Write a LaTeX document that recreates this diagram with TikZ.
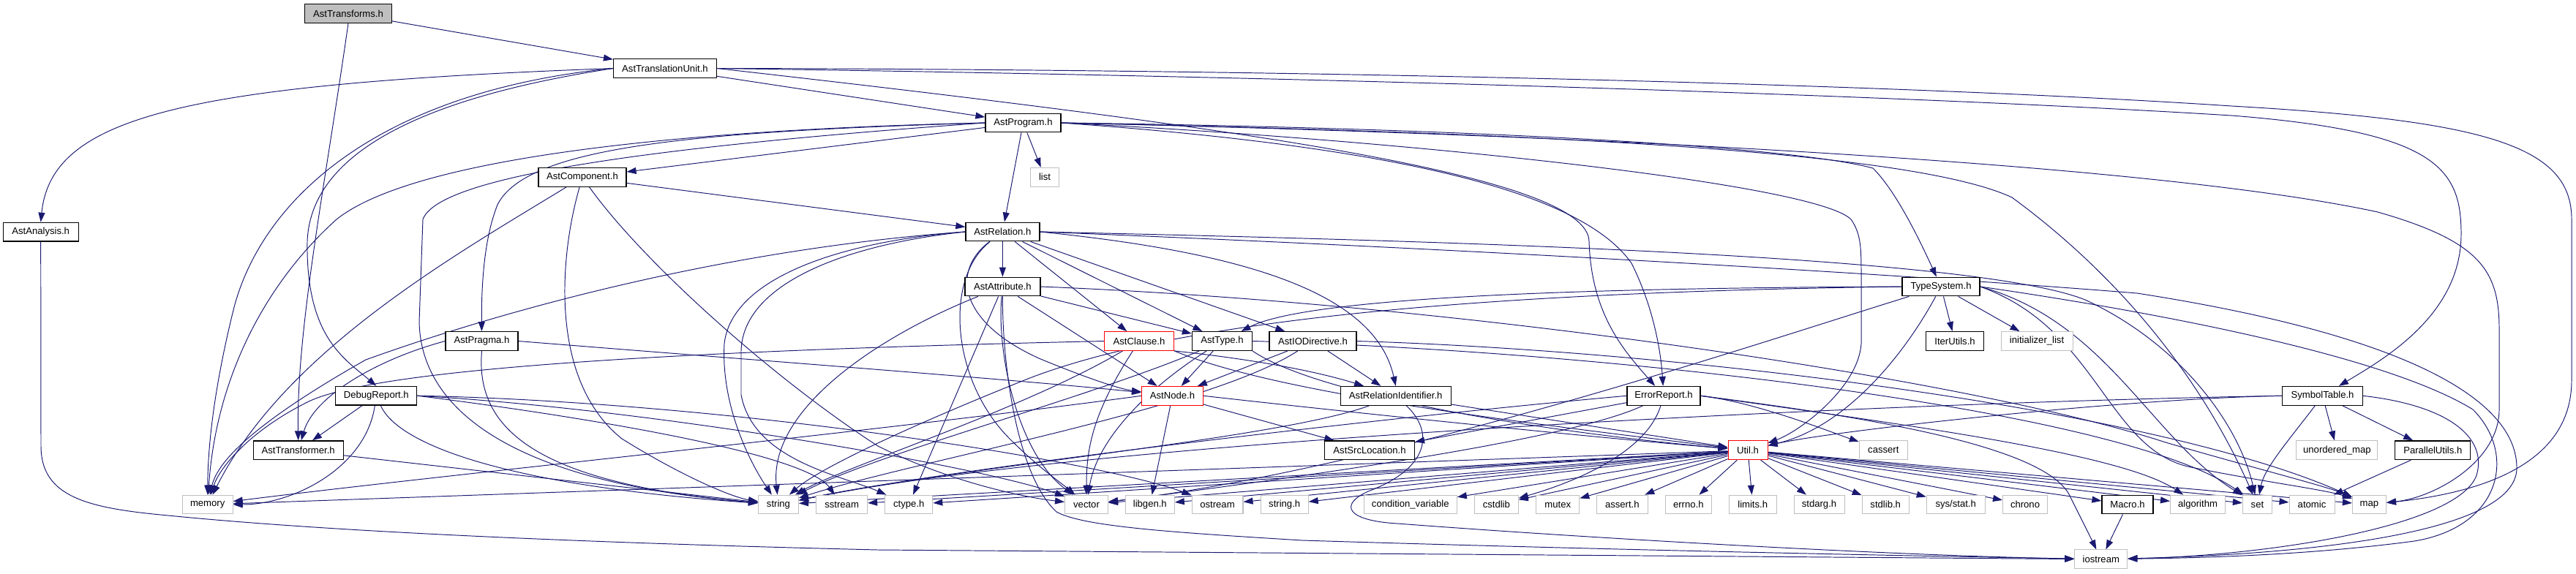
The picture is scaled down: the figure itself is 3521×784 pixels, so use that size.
\documentclass[tikz,border=0pt]{standalone}
\usepackage{fontspec}
\setmainfont{Liberation Sans}
\usetikzlibrary{arrows.meta}
\definecolor{edgeblue}{HTML}{191970}
\definecolor{sysgray}{HTML}{BFBFBF}
\pgfdeclarelayer{edges}
\pgfsetlayers{edges,main}

\begin{document}
\begin{tikzpicture}[x=0.02cm, y=-0.02cm,
    box/.style={rectangle, inner sep=0pt, minimum height=0.514cm, fill=white,
      font=\fontsize{7.46}{9}\selectfont},
    hdr/.style={box, draw=black, line width=0.7pt},
    sys/.style={box, draw=sysgray, line width=0.6pt},
    trunc/.style={box, draw=red, line width=0.6pt},
    root/.style={hdr, fill=sysgray},
    inc/.style={draw=edgeblue, line width=0.55pt, -{Triangle[length=0.26cm, width=0.18cm]}}]
  \useasboundingbox (0,0) rectangle (3521,784);

  % project headers
  \node[root, minimum width=2.38cm] (tfs) at (476,18.5) {AstTransforms.h};
  \node[hdr, minimum width=2.82cm] (atu) at (909,93.5) {AstTranslationUnit.h};
  \node[hdr, minimum width=2.06cm] (prog) at (1398.5,168) {AstProgram.h};
  \node[sys, minimum width=0.78cm] (list) at (1428,242.3) {list};
  \node[hdr, minimum width=2.40cm] (comp) at (796,242.5) {AstComponent.h};
  \node[hdr, minimum width=2.06cm] (ana) at (55.7,317.2) {AstAnalysis.h};
  \node[hdr, minimum width=2.02cm] (rel) at (1370.4,317) {AstRelation.h};
  \node[hdr, minimum width=2.06cm] (attr) at (1370.4,392) {AstAttribute.h};
  \node[hdr, minimum width=2.12cm] (tsys) at (2653,392) {TypeSystem.h};
  \node[hdr, minimum width=1.98cm] (pragma) at (658.5,466.5) {AstPragma.h};
  \node[trunc, minimum width=1.90cm] (clause) at (1557,466.5) {AstClause.h};
  \node[hdr, minimum width=1.64cm] (type) at (1670.4,466.5) {AstType.h};
  \node[hdr, minimum width=2.38cm] (iodir) at (1794.5,466.5) {AstIODirective.h};
  \node[hdr, minimum width=1.58cm] (iter) at (2672,466.5) {IterUtils.h};
  \node[sys, minimum width=1.96cm] (initl) at (2784,466.5) {initializer\_list};
  \node[hdr, minimum width=2.22cm] (dbg) at (514.3,541.2) {DebugReport.h};
  \node[trunc, minimum width=1.68cm] (astnode) at (1602.5,541.3) {AstNode.h};
  \node[hdr, minimum width=3.02cm] (relid) at (1907.7,541.3) {AstRelationIdentifier.h};
  \node[hdr, minimum width=2.00cm] (err) at (2274,541.3) {ErrorReport.h};
  \node[hdr, minimum width=2.20cm] (symt) at (3174.5,541.3) {SymbolTable.h};
  \node[hdr, minimum width=2.46cm] (tfr) at (407.7,615.8) {AstTransformer.h};
  \node[hdr, minimum width=2.46cm] (srcloc) at (1872,615.8) {AstSrcLocation.h};
  \node[trunc, minimum width=1.08cm] (util) at (2389,615.8) {Util.h};
  \node[sys, minimum width=1.32cm] (cassert) at (2574.3,615.8) {cassert};
  \node[sys, minimum width=2.22cm] (umap) at (3194.4,615.8) {unordered\_map};
  \node[hdr, minimum width=2.06cm] (par) at (3325.3,615.8) {ParallelUtils.h};

  % system headers, bottom rows
  \node[sys, minimum width=1.38cm] (memory) at (283.7,690) {memory};
  \node[sys, minimum width=1.10cm] (string) at (1064,690) {string};
  \node[sys, minimum width=1.40cm] (sstream) at (1150.6,690) {sstream};
  \node[sys, minimum width=1.30cm] (ctype) at (1242.3,690) {ctype.h};
  \node[sys, minimum width=1.18cm] (vector) at (1485,690) {vector};
  \node[sys, minimum width=1.34cm] (libgen) at (1571.8,690) {libgen.h};
  \node[sys, minimum width=1.40cm] (ostream) at (1664,690) {ostream};
  \node[sys, minimum width=1.30cm] (stringh) at (1755.7,690) {string.h};
  \node[sys, minimum width=2.54cm] (condvar) at (1927.8,690) {condition\_variable};
  \node[sys, minimum width=1.20cm] (cstdlib) at (2045.3,690) {cstdlib};
  \node[sys, minimum width=1.18cm] (mutex) at (2129.3,690) {mutex};
  \node[sys, minimum width=1.40cm] (asserth) at (2217.3,690) {assert.h};
  \node[sys, minimum width=1.26cm] (errno) at (2307.8,690) {errno.h};
  \node[sys, minimum width=1.30cm] (limits) at (2395.7,690) {limits.h};
  \node[sys, minimum width=1.38cm] (stdarg) at (2486.5,690) {stdarg.h};
  \node[sys, minimum width=1.28cm] (stdlib) at (2577.2,690) {stdlib.h};
  \node[sys, minimum width=1.60cm] (sysstat) at (2673.2,690) {sys/stat.h};
  \node[sys, minimum width=1.22cm] (chrono) at (2768,690) {chrono};
  \node[hdr, minimum width=1.40cm] (macro) at (2908,690) {Macro.h};
  \node[sys, minimum width=1.50cm] (algo) at (3004,690) {algorithm};
  \node[sys, minimum width=0.80cm] (set) at (3085.4,690) {set};
  \node[sys, minimum width=1.24cm] (atomic) at (3160,690) {atomic};
  \node[sys, minimum width=0.92cm] (map) at (3238.4,690) {map};
  \node[sys, minimum width=1.44cm] (iostream) at (2871.8,764.8) {iostream};

  \begin{pgfonlayer}{edges}
  % AstTransforms.h
  \draw[inc] (tfs) -- (atu);
  \draw[inc] (tfs.south) .. controls (445,250) and (405,450) .. (tfr.north);

  % AstTranslationUnit.h
  \draw[inc] (atu.west) .. controls (250,115) and (70,160) .. (ana.north);
  \draw[inc] (atu) -- (prog);
  \draw[inc] (atu.west) .. controls (600,130) and (425,200) .. (420,330) .. controls (418,460) and (470,490) .. (dbg.north);
  \draw[inc] (atu.west) .. controls (520,125) and (360,270) .. (320,420) .. controls (290,540) and (284,620) .. (memory);
  \draw[inc] (atu.east) .. controls (1700,175) and (2170,240) .. (2172,330) .. controls (2175,430) and (2220,480) .. (err);
  \draw[inc] (atu.east) .. controls (1800,105) and (2600,130) .. (3050,158) .. controls (3330,180) and (3364,230) .. (3364,320) .. controls (3364,430) and (3260,490) .. (symt);
  \draw[inc] (atu.east) .. controls (1800,95) and (2600,115) .. (3050,145) .. controls (3400,165) and (3515,200) .. (3515,300) -- (3515,520) .. controls (3515,640) and (3380,675) .. (map);

  % AstAnalysis.h
  \draw[inc] (ana.south) -- (56,610) .. controls (56,680) and (120,695) .. (230,705) .. controls (400,722) and (700,740) .. (1200,752) -- (iostream);

  % AstProgram.h
  \draw[inc] (prog) -- (rel);
  \draw[inc] (prog) -- (list);
  \draw[inc] (prog) -- (comp);
  \draw[inc] (prog.west) .. controls (950,180) and (720,200) .. (680,280) .. controls (660,330) and (658,400) .. (pragma);
  \draw[inc] (prog.west) .. controls (900,178) and (560,220) .. (460,300) .. controls (360,390) and (295,520) .. (memory);
  \draw[inc] (prog.west) .. controls (900,200) and (600,240) .. (578,300) -- (573,440) .. controls (575,560) and (700,660) .. (string);
  \draw[inc] (prog.east) .. controls (1900,200) and (2160,260) .. (2230,360) .. controls (2260,420) and (2270,480) .. (err);
  \draw[inc] (prog.east) .. controls (2000,175) and (2450,200) .. (2560,230) .. controls (2590,260) and (2620,320) .. (tsys);
  \draw[inc] (prog.east) .. controls (2000,180) and (2600,200) .. (2750,270) .. controls (2900,380) and (3010,520) .. (set);
  \draw[inc] (prog.east) .. controls (2200,185) and (2950,225) .. (3250,290) .. controls (3390,330) and (3416,370) .. (3416,450) -- (3416,560) .. controls (3416,630) and (3330,680) .. (map);
  \draw[inc] (prog.east) .. controls (1900,190) and (2480,250) .. (2530,300) .. controls (2544,320) and (2544,340) .. (2544,380) -- (2544,470) .. controls (2540,530) and (2460,590) .. (util);

  % AstComponent.h
  \draw[inc] (comp) -- (rel);
  \draw[inc] (comp) .. controls (620,350) and (390,480) .. (memory);
  \draw[inc] (comp) .. controls (765,350) and (750,520) .. (850,600) .. controls (930,650) and (1000,680) .. (string);
  \draw[inc] (comp) .. controls (880,360) and (1060,520) .. (1200,610) .. controls (1300,660) and (1400,680) .. (vector);

  % AstRelation.h
  \draw[inc] (rel) -- (attr);
  \draw[inc] (rel) -- (clause);
  \draw[inc] (rel) -- (type);
  \draw[inc] (rel) -- (iodir);
  \draw[inc] (rel.east) .. controls (1700,345) and (1880,400) .. (relid.north);
  \draw[inc] (rel) .. controls (1300,370) and (1310,440) .. (1420,490) .. controls (1480,515) and (1530,532) .. (astnode);
  \draw[inc] (rel) .. controls (1290,380) and (1300,520) .. (1380,600) .. controls (1420,640) and (1450,660) .. (vector);
  \draw[inc] (rel.west) .. controls (1000,340) and (700,420) .. (500,492) .. controls (380,560) and (300,620) .. (memory);
  \draw[inc] (rel.west) .. controls (1150,330) and (1000,380) .. (990,470) .. controls (985,560) and (1030,640) .. (string);
  \draw[inc] (rel.west) .. controls (1150,335) and (1015,390) .. (1013,480) -- (1013,540) .. controls (1030,630) and (1150,650) .. (ctype);
  \draw[inc] (rel.east) .. controls (2000,330) and (2700,350) .. (2850,410) .. controls (2980,470) and (3060,580) .. (set);
  \draw[inc] (rel.east) .. controls (2000,340) and (2600,375) .. (2921,401) .. controls (3300,460) and (3440,550) .. (3440,640) .. controls (3440,730) and (3150,758) .. (iostream);

  % AstAttribute.h
  \draw[inc] (attr) -- (astnode);
  \draw[inc] (attr) -- (type);
  \draw[inc] (attr) -- (ctype);
  \draw[inc] (attr) .. controls (1362,480) and (1390,620) .. (vector);
  \draw[inc] (attr) .. controls (1200,460) and (1050,560) .. (string);
  \draw[inc] (attr.east) .. controls (2000,415) and (2700,520) .. (2960,605) .. controls (3080,640) and (3180,665) .. (map);
  \draw[inc] (attr) .. controls (1370,500) and (1390,650) .. (1444,700) .. controls (1480,720) and (1600,728) .. (1780,739) .. controls (2200,752) and (2600,760) .. (iostream);

  % TypeSystem.h
  \draw[inc] (tsys.west) .. controls (2100,394) and (1780,410) .. (type);
  \draw[inc] (tsys.west) .. controls (2000,400) and (1600,440) .. (1400,520) .. controls (1250,580) and (1120,640) .. (string);
  \draw[inc] (tsys) .. controls (2600,490) and (2520,585) .. (util);
  \draw[inc] (tsys) -- (iter);
  \draw[inc] (tsys) -- (initl);
  \draw[inc] (tsys) .. controls (2400,470) and (1900,640) .. (vector);
  \draw[inc] (tsys.east) .. controls (2880,440) and (2940,600) .. (set);
  \draw[inc] (tsys.east) .. controls (2870,450) and (2880,620) .. (3000,640) .. controls (3100,660) and (3180,670) .. (map);
  \draw[inc] (tsys.east) .. controls (2900,420) and (3250,480) .. (3380,560) .. controls (3440,620) and (3420,720) .. (3300,740) .. controls (3150,760) and (3000,763) .. (iostream);

  % AstPragma.h
  \draw[inc] (pragma.west) .. controls (520,490) and (430,540) .. (tfr);
  \draw[inc] (pragma.east) .. controls (1000,490) and (1400,520) .. (astnode);
  \draw[inc] (pragma.south) .. controls (650,580) and (720,660) .. (string);

  % DebugReport.h
  \draw[inc] (dbg) -- (tfr);
  \draw[inc] (dbg) .. controls (500,640) and (400,690) .. (memory);
  \draw[inc] (dbg) .. controls (545,610) and (700,665) .. (string);
  \draw[inc] (dbg.east) .. controls (800,570) and (1100,620) .. (sstream);
  \draw[inc] (dbg.east) .. controls (900,560) and (1350,640) .. (vector);
  \draw[inc] (dbg.east) .. controls (1000,550) and (1500,630) .. (ostream);

  % AstTransformer.h
  \draw[inc] (tfr) -- (string);

  % AstClause.h
  \draw[inc] (clause.west) .. controls (1000,478) and (520,500) .. (420,550) .. controls (340,590) and (300,640) .. (memory);
  \draw[inc] (clause) .. controls (1400,560) and (1150,640) .. (string);
  \draw[inc] (clause) .. controls (1490,570) and (1485,620) .. (vector);
  \draw[inc] (clause.south east) .. controls (1700,490) and (1790,505) .. (relid);
  \draw[inc] (clause.south east) .. controls (1750,540) and (2100,580) .. (util);

  % AstType.h
  \draw[inc] (type) -- (astnode);
  \draw[inc] (type) .. controls (1570,530) and (1500,600) .. (vector);
  \draw[inc] (type) .. controls (1500,540) and (1200,620) .. (string);
  \draw[inc] (type.south east) .. controls (1800,540) and (2100,590) .. (util);
  \draw[inc] (type.east) .. controls (2200,480) and (2900,560) .. (set);

  % AstIODirective.h
  \draw[inc] (iodir) -- (astnode);
  \draw[inc] (iodir) -- (relid);
  \draw[inc] (iodir) .. controls (1650,560) and (1250,630) .. (string);
  \draw[inc] (iodir.east) .. controls (2300,480) and (2950,560) .. (map);

  % AstNode.h
  \draw[inc] (astnode) -- (libgen);
  \draw[inc] (astnode) -- (srcloc);
  \draw[inc] (astnode.west) .. controls (1200,590) and (600,650) .. (memory);
  \draw[inc] (astnode.east) .. controls (1900,570) and (2200,600) .. (util);

  % AstRelationIdentifier.h
  \draw[inc] (relid) -- (util);
  \draw[inc] (relid) .. controls (1750,600) and (1300,640) .. (string);
  \draw[inc] (relid) .. controls (1960,590) and (1955,640) .. (1870,672) .. controls (1830,690) and (1840,712) .. (1910,716) .. controls (2200,738) and (2600,760) .. (iostream);

  % ErrorReport.h
  \draw[inc] (err) -- (srcloc);
  \draw[inc] (err) .. controls (2250,620) and (2150,660) .. (cstdlib);
  \draw[inc] (err.west) .. controls (1900,570) and (1300,640) .. (string);
  \draw[inc] (err) .. controls (2150,600) and (1800,650) .. (vector);
  \draw[inc] (err.east) .. controls (2400,550) and (2500,590) .. (cassert);
  \draw[inc] (err.east) .. controls (2600,580) and (2900,620) .. (algo);
  \draw[inc] (err.east) .. controls (2550,570) and (2800,610) .. (2830,680) .. controls (2845,710) and (2855,730) .. (iostream);

  % SymbolTable.h
  \draw[inc] (symt) -- (umap);
  \draw[inc] (symt) -- (par);
  \draw[inc] (symt) .. controls (3130,600) and (3095,640) .. (set);
  \draw[inc] (symt.west) .. controls (2900,545) and (2500,590) .. (util);
  \draw[inc] (symt.west) .. controls (2600,550) and (1500,600) .. (string);
  \draw[inc] (symt.east) .. controls (3350,555) and (3400,600) .. (3385,650) .. controls (3360,720) and (3100,760) .. (iostream);

  % ParallelUtils.h
  \draw[inc] (par) -- (atomic);

  % Util.h
  \foreach \t in {memory,string,sstream,ctype,vector,libgen,ostream,stringh,condvar,
      cstdlib,mutex,asserth,errno,limits,stdarg,stdlib,sysstat,chrono,macro,algo,set,atomic,map}
    \draw[inc] (util) -- (\t);

  % Macro.h
  \draw[inc] (macro) -- (iostream);
  \end{pgfonlayer}
\end{tikzpicture}
\end{document}
